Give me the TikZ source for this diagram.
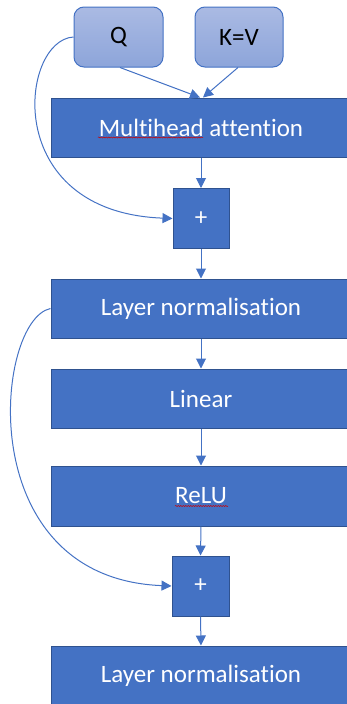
\documentclass[tikz,border=0pt]{standalone}
\usepackage{fontspec}
\setmainfont{Carlito}[Ligatures=NoCommon]
\usetikzlibrary{arrows.meta,decorations.pathmorphing}
\definecolor{acc}{HTML}{4472C4}
\definecolor{accdark}{HTML}{2F528F}
\definecolor{lighttop}{HTML}{AABAE3}
\definecolor{lightbot}{HTML}{8DA5DA}
\tikzset{
  blockbox/.style={draw=accdark, line width=1pt, fill=acc, text=white, minimum width=300pt, minimum height=59pt, inner sep=0pt, font=\fontsize{25}{30}\selectfont},
  plusbox/.style={blockbox, minimum width=56pt, minimum height=60pt},
  inbox/.style={draw=acc, line width=1pt, rounded corners=10pt, top color=lighttop, bottom color=lightbot, text=black, minimum width=89pt, minimum height=60pt, inner sep=0pt, font=\fontsize{25}{30}\selectfont},
  flow/.style={draw=acc, line width=1pt, -{Triangle[length=10pt,width=10pt]}},
  squig/.style={draw=red!80!black, line width=0.5pt, decorate, decoration={snake, amplitude=0.6pt, segment length=2.5pt}}
}
\begin{document}
\begin{tikzpicture}[x=1pt,y=-1pt]
\useasboundingbox (0,0) rectangle (346,704);
\node[inbox] (q) at (118.5,37) {Q};
\node[inbox, minimum width=88pt] (kv) at (239,37) {K=V};
\node[blockbox] (mh) at (201,127.5) {Multihead attention};
\node[plusbox] (p1) at (201,218.5) {+};
\node[blockbox] (ln1) at (201,308.5) {Layer normalisation};
\node[blockbox] (lin) at (201,398.5) {Linear};
\node[blockbox, minimum height=60pt] (relu) at (201,496) {ReLU};
\node[plusbox, minimum width=57pt] (p2) at (200.5,586) {+};
\node[blockbox] (ln2) at (201,675.5) {Layer normalisation};
% spell-check squiggles
\draw[squig] ([xshift=-103pt,yshift=-10pt]mh.center) -- ([xshift=2pt,yshift=-10pt]mh.center);
\draw[squig] ([xshift=-26pt,yshift=-10pt]relu.center) -- ([xshift=27pt,yshift=-10pt]relu.center);
% connectors
\draw[flow] ([xshift=1.5pt]q.south) -- ([xshift=-1pt]mh.north);
\draw[flow] ([xshift=-1pt]kv.south) -- ([xshift=2pt]mh.north);
\draw[flow] (mh.south) -- (p1.north);
\draw[flow] (p1.south) -- (ln1.north);
\draw[flow] (ln1.south) -- (lin.north);
\draw[flow] (lin.south) -- (relu.north);
\draw[flow] (relu.south) -- (p2.north);
\draw[flow] (p2.south) -- (ln2.north);
\draw[flow] (q.west) .. controls (20,40) and (0,212) .. (p1.west);
\draw[flow] (ln1.west) .. controls (-5,320) and (-30,578) .. (p2.west);
\end{tikzpicture}
\end{document}
